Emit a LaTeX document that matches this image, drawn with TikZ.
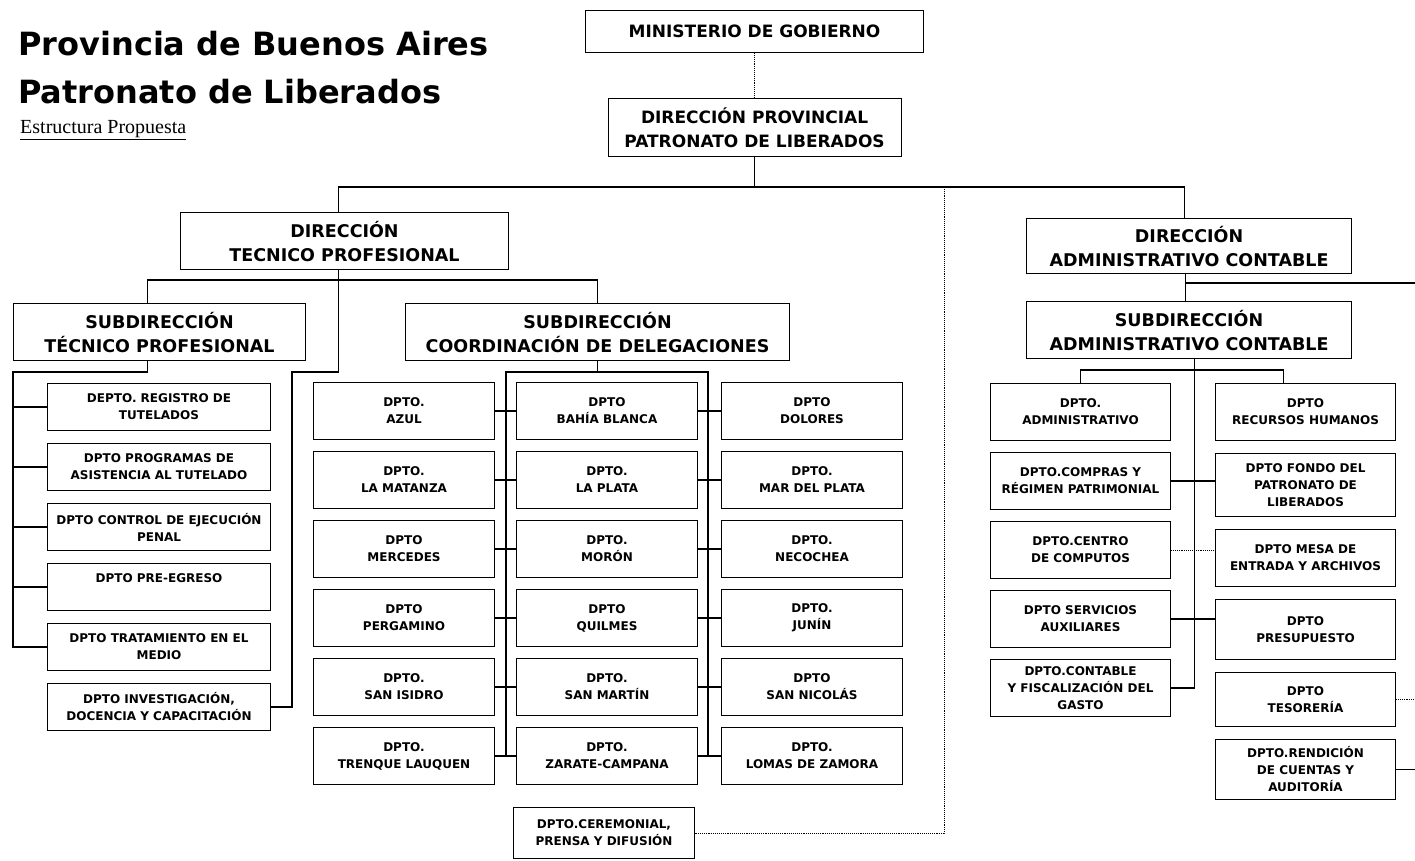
\documentclass[tikz,border=0pt]{standalone}
\usepackage{fontspec}
\setmainfont{DejaVu Sans}
\newfontfamily\subfont{Liberation Serif}
\usetikzlibrary{positioning,calc}

\tikzset{
  head/.style={draw, line width=1.1pt, align=center, inner sep=0pt,
    font=\bfseries\fontsize{17.5}{24}\selectfont},
  dpto/.style={draw, line width=1pt, align=center, inner sep=0pt,
    minimum width=181pt, minimum height=57pt,
    font=\bfseries\fontsize{12}{17}\selectfont},
  ldpto/.style={dpto, minimum width=223pt, minimum height=47pt},
  rdpto/.style={dpto, minimum width=180pt},
  lnk/.style={line width=1.1pt},
  dotlnk/.style={line width=0.9pt, densely dotted},
}

\begin{document}
\begin{tikzpicture}[x=1pt,y=-1pt,node distance=11pt]
  \fill[white] (0,0) rectangle (1415,861);
  \useasboundingbox (0,0) rectangle (1415,861);

  % Title
  \node(t1)[anchor=base west,inner sep=0pt,font=\bfseries\fontsize{32}{36}\selectfont] at (18,56) {Provincia de Buenos Aires};
  \node(t2)[anchor=base west,inner sep=0pt,font=\bfseries\fontsize{32}{36}\selectfont] at (18,104) {Patronato de Liberados};
  \node(sub)[anchor=base west,inner sep=0pt,font=\subfont\fontsize{20}{22}\selectfont] at (20,134) {\underline{Estructura Propuesta}};

  % Top
  \node(min)[head,anchor=north west,minimum width=338pt,minimum height=42pt,font=\bfseries\fontsize{17}{20}\selectfont] at (585,10) {MINISTERIO DE GOBIERNO};
  \node(dprov)[head,below=45pt of min,minimum width=293pt,minimum height=58pt,font=\bfseries\fontsize{17}{24}\selectfont] {DIRECCIÓN PROVINCIAL\\PATRONATO DE LIBERADOS};

  \node(dtec)[head,anchor=north west,minimum width=328pt,minimum height=57pt] at (180,212) {DIRECCIÓN\\TECNICO PROFESIONAL};
  \node(dadm)[head,anchor=north west,minimum width=325pt,minimum height=55pt] at (1026,218) {DIRECCIÓN\\ADMINISTRATIVO CONTABLE};

  \node(stec)[head,anchor=north west,minimum width=292pt,minimum height=57pt] at (13,303) {SUBDIRECCIÓN\\TÉCNICO PROFESIONAL};
  \node(scoord)[head,anchor=north west,minimum width=384pt,minimum height=57pt] at (405,303) {SUBDIRECCIÓN\\COORDINACIÓN DE DELEGACIONES};
  \node(sadm)[head,below=27pt of dadm,minimum width=325pt,minimum height=57pt] {SUBDIRECCIÓN\\ADMINISTRATIVO CONTABLE};

  % Tecnico profesional
  \node(reg)[ldpto,anchor=north west] at (47,383) {DEPTO. REGISTRO DE\\TUTELADOS};
  \node(prog)[ldpto,below=12pt of reg] {DPTO PROGRAMAS DE\\ASISTENCIA AL TUTELADO};
  \node(ctrl)[ldpto,below=12pt of prog] {DPTO CONTROL DE EJECUCIÓN\\PENAL};
  \node(pre)[ldpto,below=12pt of ctrl] {DPTO PRE-EGRESO\\~};
  \node(trat)[ldpto,below=12pt of pre] {DPTO TRATAMIENTO EN EL\\MEDIO};
  \node(inv)[ldpto,below=12pt of trat] {DPTO INVESTIGACIÓN,\\DOCENCIA Y CAPACITACIÓN};

  % Delegaciones
  \node(azul)[dpto,anchor=north west] at (313,382) {DPTO.\\AZUL};
  \node(mat)[dpto,below=of azul] {DPTO.\\LA MATANZA};
  \node(mer)[dpto,below=of mat] {DPTO\\MERCEDES};
  \node(per)[dpto,below=of mer] {DPTO\\PERGAMINO};
  \node(sis)[dpto,below=of per] {DPTO.\\SAN ISIDRO};
  \node(tren)[dpto,below=of sis] {DPTO.\\TRENQUE LAUQUEN};

  \node(bahia)[dpto,right=21pt of azul] {DPTO\\BAHÍA BLANCA};
  \node(plata)[dpto,below=of bahia] {DPTO.\\LA PLATA};
  \node(moron)[dpto,below=of plata] {DPTO.\\MORÓN};
  \node(quil)[dpto,below=of moron] {DPTO\\QUILMES};
  \node(smar)[dpto,below=of quil] {DPTO.\\SAN MARTÍN};
  \node(zar)[dpto,below=of smar] {DPTO.\\ZARATE-CAMPANA};

  \node(dol)[dpto,right=23pt of bahia] {DPTO\\DOLORES};
  \node(mdp)[dpto,below=of dol] {DPTO.\\MAR DEL PLATA};
  \node(nec)[dpto,below=of mdp] {DPTO.\\NECOCHEA};
  \node(jun)[dpto,below=of nec] {DPTO.\\JUNÍN};
  \node(snic)[dpto,below=of jun] {DPTO\\SAN NICOLÁS};
  \node(lomas)[dpto,below=of snic] {DPTO.\\LOMAS DE ZAMORA};

  \node(cer)[dpto,anchor=north west,minimum height=51pt] at (513,807) {DPTO.CEREMONIAL,\\PRENSA Y DIFUSIÓN};

  % Administrativo contable
  \node(adm)[rdpto,anchor=north west] at (990,383) {DPTO.\\ADMINISTRATIVO};
  \node(comp)[rdpto,below=of adm] {DPTO.COMPRAS Y\\RÉGIMEN PATRIMONIAL};
  \node(cen)[rdpto,below=of comp] {DPTO.CENTRO\\DE COMPUTOS};
  \node(serv)[rdpto,below=of cen] {DPTO SERVICIOS\\AUXILIARES};
  \node(cont)[rdpto,below=of serv] {DPTO.CONTABLE\\Y FISCALIZACIÓN DEL\\GASTO};

  \node(rrhh)[rdpto,right=44pt of adm] {DPTO\\RECURSOS HUMANOS};
  \node(fondo)[rdpto,below=12pt of rrhh,minimum height=63pt] {DPTO FONDO DEL\\PATRONATO DE\\LIBERADOS};
  \node(mesa)[rdpto,below=12pt of fondo] {DPTO MESA DE\\ENTRADA Y ARCHIVOS};
  \node(pres)[rdpto,below=12pt of mesa,minimum height=60pt] {DPTO\\PRESUPUESTO};
  \node(tes)[rdpto,below=12pt of pres,minimum height=54pt] {DPTO\\TESORERÍA};
  \node(rend)[rdpto,below=12pt of tes,minimum height=60pt] {DPTO.RENDICIÓN\\DE CUENTAS Y\\AUDITORÍA};

  % Connectors
  \coordinate (bj) at (944,187);
  \draw[dotlnk] (min) -- (dprov);
  \draw[lnk] (dprov.south) -- (dprov.south |- bj);
  \draw[lnk] ([xshift=-6pt]dtec.north) |- (bj) -| ([xshift=-5pt]dadm.north);
  \draw[dotlnk] (bj) |- (cer.east);

  \coordinate (tj) at ([xshift=-6pt]dtec.south |- 0,280);
  \draw[lnk] ([xshift=-6pt]dtec.south) -- (tj);
  \draw[lnk] ([xshift=-12pt]stec.north) |- (tj) -| (scoord.north);
  \draw[lnk] (tj) |- (292,372) |- (inv.east);

  \coordinate (lv) at (13,372);
  \draw[lnk] ([xshift=-12pt]stec.south) |- (lv) |- (trat.west);
  \foreach \n in {reg,prog,ctrl,pre}
    \draw[lnk] (lv |- \n.west) -- (\n.west);

  \coordinate (ml) at (506,372);
  \coordinate (mr) at (708,372);
  \draw[lnk] (scoord.south) -- (scoord.south |- ml);
  \draw[lnk] (ml |- tren.east) -- (ml) -- (mr) -- (mr |- lomas.west);
  \foreach \a/\b/\c in {azul/bahia/dol,mat/plata/mdp,mer/moron/nec,per/quil/jun,sis/smar/snic,tren/zar/lomas}{
    \draw[lnk] (\a) -- (\b);
    \draw[lnk] (\b) -- (\c);
  }

  \coordinate (redge) at (1415,283);
  \draw[lnk] ([xshift=-4pt]dadm.south) -- ([xshift=-4pt]sadm.north);
  \draw[lnk] ([xshift=-4pt]dadm.south |- redge) -- (redge);
  \draw[lnk] ([xshift=5pt]sadm.south) |- (cont.east);
  \draw[lnk] (adm.north) -- ++(0,-13) -| ([xshift=-22pt]rrhh.north);
  \draw[lnk] (comp) -- (comp.east -| fondo.west);
  \draw[dotlnk] (cen) -- (cen.east -| mesa.west);
  \draw[lnk] (serv) -- (serv.east -| pres.west);
  \draw[dotlnk] (tes) -- (tes.east -| redge);
  \draw[lnk] (rend) -- (rend.east -| redge);
\end{tikzpicture}
\end{document}
